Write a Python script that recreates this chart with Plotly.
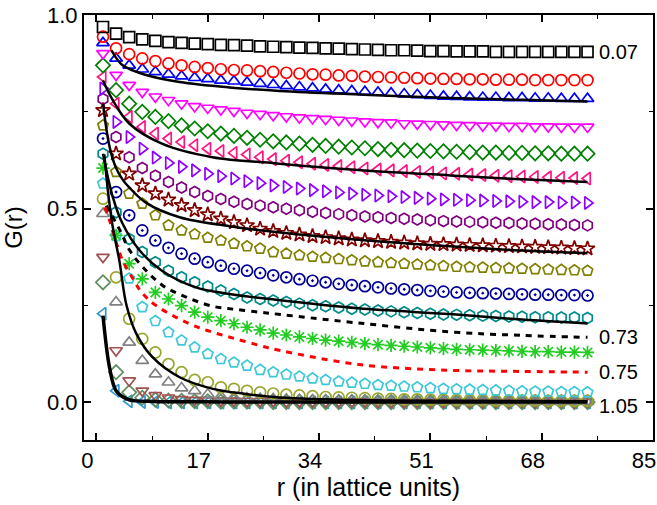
import plotly.graph_objects as go

r = list(range(1, 76, 2))  # 38 points

sq = [0.969,0.952,0.943,0.937,0.933,0.930,0.928,0.926,0.925,0.923,0.922,0.921,0.919,0.918,
      0.917,0.916,0.915,0.914,0.913,0.912,0.911,0.910,0.909,0.909,0.908,0.907,0.907,0.906,0.906,0.906,0.905,0.905,0.905,0.905,0.905,0.905,0.905,0.905]
red_c = [0.944,0.914,0.899,0.888,0.881,0.875,0.870,0.866,0.863,0.860,0.858,0.857,0.855,0.853,
      0.851,0.849,0.847,0.846,0.844,0.843,0.841,0.840,0.839,0.838,0.837,0.836,0.835,0.835,0.834,0.834,0.833,0.833,0.833,0.832,0.832,0.832,0.832,0.832]
blue_t = [0.928,0.888,0.870,0.860,0.853,0.847,0.842,0.838,0.835,0.831,0.829,0.826,0.823,0.820,
      0.817,0.814,0.811,0.808,0.806,0.804,0.802,0.800,0.798,0.796,0.794,0.792,0.790,0.789,0.788,0.787,0.787,0.786,0.786,0.785,0.785,0.784,0.784,0.784]
mag_d = [0.901,0.845,0.819,0.801,0.789,0.780,0.771,0.764,0.760,0.756,0.752,0.747,0.744,0.741,
      0.738,0.735,0.733,0.731,0.729,0.727,0.725,0.723,0.722,0.720,0.719,0.718,0.717,0.716,0.715,0.714,0.714,0.713,0.713,0.712,0.712,0.711,0.711,0.711]
grn_dm = [0.870,0.806,0.771,0.750,0.737,0.726,0.715,0.707,0.700,0.694,0.688,0.683,0.678,0.674,
      0.671,0.668,0.665,0.662,0.660,0.658,0.656,0.654,0.652,0.651,0.650,0.649,0.648,0.647,0.646,0.645,0.645,0.644,0.644,0.643,0.643,0.642,0.642,0.642]
pink_l = [0.840,0.771,0.737,0.711,0.694,0.681,0.672,0.664,0.655,0.649,0.644,0.640,0.633,0.628,
      0.624,0.620,0.616,0.613,0.610,0.607,0.604,0.601,0.599,0.597,0.595,0.593,0.591,0.590,0.588,0.587,0.585,0.584,0.583,0.582,0.581,0.580,0.579,0.578]
vio_r = [0.810,0.724,0.685,0.655,0.632,0.618,0.608,0.599,0.590,0.584,0.578,0.571,0.566,0.560,
      0.556,0.552,0.548,0.545,0.542,0.539,0.536,0.534,0.532,0.530,0.528,0.526,0.524,0.523,0.522,0.521,0.520,0.519,0.518,0.517,0.517,0.516,0.516,0.515]
pur_h = [0.783,0.685,0.633,0.605,0.585,0.569,0.555,0.543,0.533,0.525,0.518,0.512,0.508,0.504,
      0.500,0.496,0.492,0.489,0.486,0.483,0.480,0.478,0.476,0.474,0.472,0.470,0.468,0.467,0.466,0.465,0.464,0.463,0.462,0.461,0.460,0.459,0.458,0.457]
star = [0.754,0.642,0.590,0.560,0.539,0.523,0.509,0.496,0.485,0.474,0.465,0.457,0.448,0.442,
      0.437,0.433,0.429,0.426,0.423,0.420,0.418,0.416,0.414,0.412,0.410,0.409,0.408,0.407,0.406,0.405,0.404,0.403,0.402,0.401,0.400,0.399,0.398,0.397]
olv_p = [0.715,0.595,0.539,0.513,0.483,0.457,0.444,0.434,0.425,0.418,0.410,0.403,0.397,0.388,
      0.384,0.380,0.376,0.373,0.370,0.367,0.364,0.362,0.360,0.358,0.356,0.354,0.352,0.350,0.349,0.348,0.347,0.346,0.345,0.344,0.343,0.342,0.341,0.340]
navy_c = [0.681,0.543,0.483,0.444,0.418,0.399,0.384,0.371,0.362,0.353,0.345,0.340,0.334,0.328,
      0.323,0.318,0.314,0.310,0.306,0.303,0.300,0.297,0.294,0.292,0.290,0.288,0.286,0.284,0.283,0.282,0.281,0.280,0.279,0.278,0.278,0.277,0.277,0.276]
teal_h = [0.642,0.491,0.422,0.388,0.362,0.340,0.323,0.310,0.299,0.289,0.280,0.271,0.267,0.263,
      0.259,0.255,0.251,0.248,0.245,0.242,0.240,0.237,0.235,0.233,0.231,0.229,0.227,0.226,0.225,0.224,0.223,0.222,0.221,0.220,0.220,0.219,0.219,0.218]
grn_ast = [0.605,0.431,0.358,0.319,0.284,0.267,0.250,0.233,0.220,0.211,0.203,0.194,0.187,0.179,
      0.174,0.169,0.165,0.161,0.158,0.155,0.152,0.149,0.147,0.145,0.143,0.141,0.139,0.137,0.136,0.135,0.134,0.133,0.132,0.131,0.131,0.130,0.130,0.129]
cyan_p = [0.565,0.430,0.320,0.246,0.210,0.181,0.160,0.142,0.125,0.112,0.103,0.095,0.084,0.078,
      0.072,0.067,0.062,0.058,0.054,0.051,0.048,0.045,0.043,0.041,0.039,0.037,0.035,0.034,0.033,0.032,0.031,0.030,0.029,0.028,0.028,0.027,0.027,0.026]
olv_c = [0.526,0.323,0.216,0.164,0.129,0.099,0.078,0.058,0.052,0.039,0.035,0.030,0.026,0.023,
      0.020,0.018,0.016,0.014,0.013,0.012,0.011,0.010,0.009,0.008,0.008,0.007,0.007,0.006,0.006,0.006,0.005,0.005,0.005,0.005,0.004,0.004,0.004,0.004]
gray_t = [0.487,0.259,0.155,0.108,0.073,0.052,0.037,0.030,0.021,0.016,0.013,0.011,0.010,0.009,
      0.008,0.007,0.006,0.006,0.005,0.005,0.004,0.004,0.004,0.003,0.003,0.003,0.003,0.003,0.002,0.002,0.002,0.002,0.002,0.002,0.002,0.002,0.002,0.002]
brn_d = [0.375,0.134,0.056,0.030,0.018,0.012,0.008,0.006,0.005,0.004,0.004,0.003,0.003,0.003,
      0.002,0.002,0.002,0.002,0.002,0.002,0.002,0.001,0.001,0.001,0.001,0.001,0.001,0.001,0.001,0.001,0.001,0.001,0.001,0.001,0.001,0.001,0.001,0.001]
gg_dm = [0.310,0.078,0.026,0.012,0.007,0.005,0.004,0.003,0.003,0.002,0.002,0.002,0.002,0.001,
      0.001,0.001,0.001,0.001,0.001,0.001,0.001,0.001,0.001,0.001,0.001,0.001,0.001,0.001,0.001,0.001,0.001,0.001,0.001,0.001,0.001,0.001,0.001,0.001]
lb_l = [0.229,0.030,0.003,0.001,0.001,0.0,0.0,0.0,0.0,0.0,0.0,0.0,0.0,0.0,
      0.0,0.0,0.0,0.0,0.0,0.0,0.0,0.0,0.0,0.0,0.0,0.0,0.0,0.0,0.0,0.0,0.0,0.0,0.0,0.0,0.0,0.0,0.0,0.0]

# dashed curves
bd_r = [1.5,3.6,5.1,7.1,10.1,13.7,17.8,21.3,24.9,27,40,54,65,75]
bd_g = [0.508,0.444,0.392,0.349,0.302,0.272,0.248,0.240,0.233,0.229,0.205,0.182,0.173,0.168]
rd_r = [1.3,2,3,4,5.6,6.9,9.1,14.2,17.8,21.3,24.9,27,40,54,65,75]
rd_g = [0.504,0.470,0.414,0.366,0.319,0.284,0.250,0.203,0.181,0.164,0.147,0.138,0.098,0.083,0.080,0.078]

# solid black fit curves
f1_r = [2.3,4,7.6,12.7,20.3,28,40,54,65,75]
f1_g = [0.909,0.870,0.845,0.827,0.813,0.804,0.795,0.786,0.781,0.777]
f2_r = [1,2.5,5,10,17.7,27.5,40,54,65,75]
f2_g = [0.831,0.780,0.720,0.668,0.633,0.617,0.600,0.586,0.576,0.569]
f3_r = [1,2,3,4,5,7.6,12.7,20.3,27.4,40,54,65,75]
f3_g = [0.771,0.660,0.605,0.575,0.555,0.515,0.478,0.455,0.440,0.420,0.403,0.392,0.385]
f4_r = [1,2.5,4,6.6,10,15.2,20.3,27.4,40,54,65,75]
f4_g = [0.642,0.530,0.461,0.392,0.340,0.297,0.280,0.265,0.243,0.228,0.214,0.204]
f5_r = [1.2,1.8,2.5,3.5,4.6,6.1,8.6,12.7,17.8,22.8,28,40,55,75]
f5_g = [0.640,0.539,0.452,0.366,0.250,0.177,0.116,0.065,0.035,0.022,0.013,0.006,0.004,0.003]
f6_r = [1,2,3,4.6,6,8,10,15,20,30,50,75]
f6_g = [0.224,0.090,0.030,0.009,0.004,0.003,0.002,0.002,0.001,0.001,0.001,0.001]

labels = ["0.07", "0.73", "0.75", "1.05"]

marker_series = [
    (lb_l, "triangle-left-open", "#3399CC"),
    (gg_dm, "diamond-open", "#5F8F5F"),
    (brn_d, "triangle-down-open", "#A0524F"),
    (gray_t, "triangle-up-open", "#808080"),
    (olv_c, "circle-open", "#9AA52E"),
    (cyan_p, "pentagon-open", "#3CC8D8"),
    (grn_ast, "asterisk-open", "#22CC22"),
    (teal_h, "hexagon-open", "#008B8B"),
    (navy_c, "circle-open-dot", "#000099"),
    (olv_p, "pentagon-open", "#808000"),
    (star, "star-open", "#800000"),
    (pur_h, "hexagon-open", "#800080"),
    (vio_r, "triangle-right-open", "#8F00FF"),
    (pink_l, "triangle-left-open", "#FF1480"),
    (grn_dm, "diamond-open", "#008000"),
    (mag_d, "triangle-down-open", "#FF00FF"),
    (blue_t, "triangle-up-open", "#0000FF"),
    (red_c, "circle-open", "#FF0000"),
    (sq, "square-open", "#000000"),
]

fig = go.Figure()
for ys, sym, col in marker_series:
    fig.add_trace(go.Scatter(x=r, y=ys, mode="markers",
                             marker=dict(symbol=sym, size=11, color=col,
                                         line=dict(width=1.7, color=col)),
                             showlegend=False))

fig.add_trace(go.Scatter(x=bd_r, y=bd_g, mode="lines", line=dict(color="black", width=3, dash="6px,6px", shape="spline"), showlegend=False))
fig.add_trace(go.Scatter(x=rd_r, y=rd_g, mode="lines", line=dict(color="#FF0000", width=3, dash="6px,6px", shape="spline"), showlegend=False))
for fr, fg, w in [(f1_r, f1_g, 2.5), (f2_r, f2_g, 2.5), (f3_r, f3_g, 2.5), (f4_r, f4_g, 2.5), (f5_r, f5_g, 2.5), (f6_r, f6_g, 3.5)]:
    fig.add_trace(go.Scatter(x=fr, y=fg, mode="lines", line=dict(color="black", width=w, shape="spline"), showlegend=False))

ann_y = [sq[-1], bd_g[-1], rd_g[-1], f6_g[-1] - 0.01]
for txt, yv in zip(labels, ann_y):
    fig.add_annotation(x=r[-1] + 1.5, y=yv, text=txt, showarrow=False, xanchor="left", yanchor="middle",
                       font=dict(size=20, color="black", family="Liberation Sans"))

axis_common = dict(showline=True, linecolor="black", linewidth=2, mirror="ticks",
                   ticks="inside", ticklen=7, tickwidth=1.5, tickcolor="black",
                   showgrid=False, zeroline=False, automargin=False,
                   tickfont=dict(size=22, color="black", family="Liberation Sans"))

fig.update_xaxes(range=[-1.9, 85], tickvals=[0, 17, 34, 51, 68, 85], ticklabelshift=-9,
                 minor=dict(ticks="inside", ticklen=4, tickwidth=1.2, tickcolor="black", dtick=8.5, tick0=0),
                 title=dict(text="r (in lattice units)", font=dict(size=25, color="black", family="Liberation Sans"), standoff=4),
                 **axis_common)
fig.update_yaxes(range=[-0.097, 1.0], tickvals=[0.0, 0.5, 1.0], ticktext=["0.0", "0.5", "1.0"],
                 minor=dict(ticks="inside", ticklen=4, tickwidth=1.2, tickcolor="black", tickvals=[0.25, 0.75]),
                 title=dict(text="G(r)", font=dict(size=24, color="black", family="Liberation Sans"), standoff=22),
                 **axis_common)

fig.update_layout(width=657, height=505, margin=dict(l=84, r=4, t=15, b=65),
                  plot_bgcolor="white", paper_bgcolor="white")

fig.write_html("out.html", config={"displayModeBar": False},
               post_script="document.body.style.margin='0';document.body.style.padding='0';")
